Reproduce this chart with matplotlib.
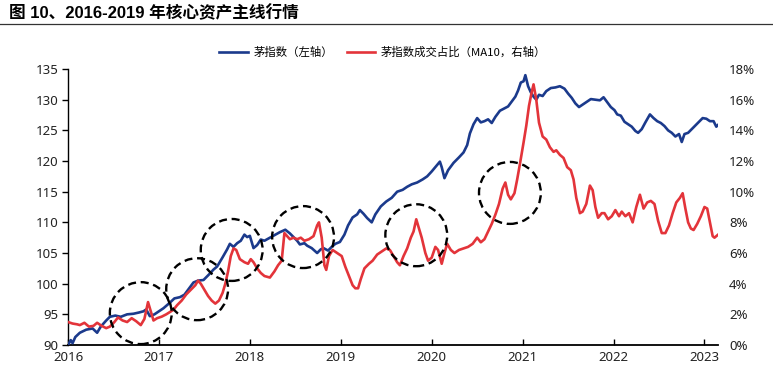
import matplotlib
matplotlib.use("Agg")
import matplotlib.pyplot as plt
from matplotlib.patches import Ellipse
from matplotlib.lines import Line2D
from matplotlib.ticker import FuncFormatter, MultipleLocator

plt.rcParams['font.family'] = ['Noto Sans', 'Noto Sans CJK SC', 'DejaVu Sans']

title = "图 10、2016-2019 年核心资产主线行情"
label_blue = "茅指数（左轴）"
label_red = "茅指数成交占比（MA10，右轴）"
year_ticks = [2016, 2017, 2018, 2019, 2020, 2021, 2022, 2023]

blue_x = [2016.00, 2016.03, 2016.05, 2016.08, 2016.13, 2016.20, 2016.27, 2016.32, 2016.36, 2016.42,
          2016.46, 2016.52, 2016.58, 2016.65, 2016.72, 2016.78, 2016.83, 2016.86, 2016.90, 2016.95,
          2016.98, 2017.05, 2017.12, 2017.17, 2017.23, 2017.28, 2017.33, 2017.38, 2017.43, 2017.49,
          2017.55, 2017.60, 2017.64, 2017.70, 2017.75, 2017.78, 2017.82, 2017.86, 2017.90, 2017.94,
          2017.97, 2018.00, 2018.04, 2018.08, 2018.12, 2018.16, 2018.22, 2018.28, 2018.33, 2018.39,
          2018.44, 2018.48, 2018.52, 2018.55, 2018.60, 2018.63, 2018.68, 2018.74, 2018.78, 2018.81,
          2018.86, 2018.90, 2018.94, 2018.99, 2019.04, 2019.08, 2019.13, 2019.18, 2019.21, 2019.25,
          2019.29, 2019.34, 2019.38, 2019.44, 2019.50, 2019.56, 2019.62, 2019.68, 2019.73, 2019.78,
          2019.84, 2019.90, 2019.95, 2020.00, 2020.05, 2020.09, 2020.11, 2020.14, 2020.18, 2020.24,
          2020.30, 2020.35, 2020.39, 2020.42, 2020.46, 2020.50, 2020.54, 2020.58, 2020.62, 2020.66,
          2020.70, 2020.75, 2020.80, 2020.84, 2020.88, 2020.92, 2020.95, 2020.98, 2021.01, 2021.03,
          2021.06, 2021.09, 2021.12, 2021.15, 2021.18, 2021.22, 2021.26, 2021.31, 2021.36, 2021.41,
          2021.46, 2021.50, 2021.54, 2021.58, 2021.62, 2021.66, 2021.70, 2021.75, 2021.80, 2021.85,
          2021.89, 2021.93, 2021.97, 2022.01, 2022.04, 2022.08, 2022.12, 2022.16, 2022.20, 2022.24,
          2022.27, 2022.31, 2022.35, 2022.40, 2022.44, 2022.48, 2022.52, 2022.56, 2022.60, 2022.64,
          2022.68, 2022.72, 2022.75, 2022.78, 2022.82, 2022.86, 2022.90, 2022.94, 2022.98, 2023.02,
          2023.06, 2023.10, 2023.13, 2023.15]
blue_y = [90.0, 90.8, 90.3, 91.3, 92.0, 92.5, 92.7, 92.0, 93.0, 94.0,
          94.6, 94.8, 94.6, 95.0, 95.1, 95.3, 95.5, 95.8, 94.7, 95.0,
          95.3, 96.0, 96.9, 97.6, 97.8, 98.2, 99.2, 100.2, 100.5, 100.6,
          101.5, 102.3, 102.8, 104.3, 105.6, 106.5, 106.0, 106.6, 107.0, 108.0,
          107.6, 107.8, 105.8, 106.3, 107.2, 107.0, 107.5, 108.0, 108.4, 108.8,
          108.2, 107.6, 107.0, 106.4, 106.6, 106.2, 105.8, 105.0, 105.6, 105.8,
          105.4, 106.0, 106.5, 106.8, 108.0, 109.5, 110.8, 111.3, 112.0, 111.4,
          110.7, 110.0, 111.3, 112.6, 113.4, 114.0, 115.0, 115.3, 115.8, 116.2,
          116.5, 117.0, 117.5, 118.3, 119.2, 119.9, 119.0, 117.2, 118.5, 119.7,
          120.6, 121.4, 122.6, 124.5, 126.0, 127.0, 126.3, 126.5, 126.8, 126.2,
          127.2, 128.2, 128.6, 128.9, 129.7, 130.5, 131.5, 132.8, 133.0, 134.0,
          132.2, 131.2, 130.5, 130.0, 130.8, 130.6, 131.4, 131.9, 132.0, 132.2,
          131.8, 131.0, 130.3, 129.4, 128.8, 129.2, 129.6, 130.1, 130.0, 129.9,
          130.4, 129.6, 128.8, 128.3, 127.6, 127.4, 126.4, 126.0, 125.6, 124.9,
          124.6, 125.2, 126.3, 127.6, 127.0, 126.5, 126.2, 125.7, 125.0, 124.6,
          124.0, 124.4, 123.1, 124.4, 124.6, 125.2, 125.8, 126.4, 127.0, 126.9,
          126.5, 126.5, 125.6, 125.9]

red_x = [2016.00, 2016.05, 2016.10, 2016.13, 2016.18, 2016.23, 2016.28, 2016.32, 2016.37, 2016.42,
         2016.46, 2016.51, 2016.55, 2016.60, 2016.65, 2016.70, 2016.75, 2016.80, 2016.84, 2016.88,
         2016.91, 2016.94, 2016.98, 2017.03, 2017.08, 2017.12, 2017.16, 2017.20, 2017.25, 2017.30,
         2017.35, 2017.40, 2017.43, 2017.46, 2017.50, 2017.54, 2017.58, 2017.62, 2017.66, 2017.70,
         2017.73, 2017.76, 2017.79, 2017.82, 2017.85, 2017.89, 2017.94, 2017.98, 2018.01, 2018.04,
         2018.08, 2018.12, 2018.16, 2018.22, 2018.27, 2018.31, 2018.35, 2018.38, 2018.41, 2018.44,
         2018.48, 2018.52, 2018.56, 2018.60, 2018.65, 2018.70, 2018.74, 2018.76, 2018.79, 2018.82,
         2018.84, 2018.87, 2018.91, 2018.96, 2019.01, 2019.05, 2019.09, 2019.13, 2019.16, 2019.19,
         2019.22, 2019.26, 2019.31, 2019.35, 2019.40, 2019.45, 2019.50, 2019.54, 2019.58, 2019.62,
         2019.65, 2019.69, 2019.73, 2019.77, 2019.80, 2019.83, 2019.86, 2019.89, 2019.93, 2019.96,
         2020.00, 2020.04, 2020.07, 2020.11, 2020.14, 2020.17, 2020.21, 2020.25, 2020.30, 2020.35,
         2020.40, 2020.45, 2020.50, 2020.54, 2020.58, 2020.62, 2020.66, 2020.70, 2020.74, 2020.78,
         2020.81, 2020.84, 2020.87, 2020.91, 2020.94, 2020.97, 2021.01, 2021.04, 2021.07, 2021.10,
         2021.12, 2021.15, 2021.18, 2021.22, 2021.26, 2021.30, 2021.34, 2021.37, 2021.41, 2021.45,
         2021.49, 2021.53, 2021.56, 2021.59, 2021.63, 2021.66, 2021.70, 2021.74, 2021.77, 2021.80,
         2021.83, 2021.87, 2021.90, 2021.94, 2021.98, 2022.02, 2022.06, 2022.09, 2022.13, 2022.17,
         2022.21, 2022.25, 2022.29, 2022.33, 2022.37, 2022.41, 2022.45, 2022.49, 2022.53, 2022.57,
         2022.61, 2022.65, 2022.69, 2022.73, 2022.76, 2022.79, 2022.82, 2022.85, 2022.88, 2022.92,
         2022.96, 2023.00, 2023.03, 2023.06, 2023.09, 2023.11, 2023.15]
red_y = [1.5, 1.4, 1.35, 1.3, 1.45, 1.2, 1.25, 1.45, 1.25, 1.1,
         1.2, 1.5, 1.8, 1.6, 1.5, 1.75, 1.55, 1.3, 1.7, 2.8,
         2.2, 1.6, 1.75, 1.85, 2.0, 2.15, 2.3, 2.6, 2.9, 3.3,
         3.6, 3.9, 4.2, 4.0, 3.6, 3.2, 2.9, 2.7, 2.9, 3.4,
         4.0, 4.8, 5.8, 6.3, 6.2, 5.6, 5.4, 5.3, 5.6, 5.4,
         5.0, 4.7, 4.5, 4.4, 4.8, 5.2, 5.5, 7.3, 7.1, 6.9,
         7.0, 6.9, 7.0, 6.8, 6.9, 7.1, 7.8, 8.0, 7.0, 5.2,
         4.9, 5.8, 6.2, 6.0, 5.8, 5.1, 4.5, 3.9, 3.7, 3.7,
         4.3, 5.0, 5.3, 5.5, 5.9, 6.1, 6.3, 6.2, 5.8, 5.4,
         5.2, 5.8, 6.3, 7.0, 7.4, 8.2, 7.6, 7.0, 6.0, 5.5,
         5.7, 6.4, 6.2, 5.3, 6.0, 6.6, 6.2, 6.0, 6.2, 6.3,
         6.4, 6.6, 7.0, 6.7, 6.9, 7.4, 7.9, 8.5, 9.2, 10.2,
         10.6, 9.8, 9.5, 9.9, 10.8, 11.8, 13.2, 14.3, 15.6, 16.5,
         17.0, 16.0, 14.5, 13.6, 13.4, 12.9, 12.6, 12.7, 12.4, 12.2,
         11.6, 11.4, 10.8, 9.6, 8.6, 8.7, 9.2, 10.4, 10.1, 9.0,
         8.3, 8.6, 8.6, 8.2, 8.4, 8.8, 8.4, 8.7, 8.4, 8.6,
         8.0, 9.0, 9.8, 8.9, 9.3, 9.4, 9.2, 8.1, 7.3, 7.3,
         7.8, 8.6, 9.3, 9.6, 9.9, 8.9, 8.0, 7.6, 7.5, 7.9,
         8.4, 9.0, 8.9, 8.0, 7.1, 7.0, 7.2]

# highlighted periods (centre year, centre value on left axis)
circle_x = [2016.80, 2017.42, 2017.80, 2018.585, 2019.83, 2020.86]
circle_y = [95.2, 99.1, 105.5, 107.6, 107.9, 114.8]

BLUE = '#1b3a8c'
RED = '#e3343a'

fig = plt.figure(figsize=(7.73, 3.76), dpi=100)
ax1 = fig.add_axes([0.088, 0.0824, 0.841, 0.734])
ax2 = ax1.twinx()

ax1.plot(blue_x, blue_y, color=BLUE, lw=1.9, zorder=3)
ax2.plot(red_x, red_y, color=RED, lw=1.9, zorder=3)

ax1.set_xlim(2016, 2023.15)
ax1.set_ylim(90, 135)
ax2.set_ylim(0, 18)
ax1.yaxis.set_major_locator(MultipleLocator(5))
ax2.yaxis.set_major_locator(MultipleLocator(2))
ax2.yaxis.set_major_formatter(FuncFormatter(lambda v, p: f"{int(round(v))}%"))
ax1.set_xticks(year_ticks)
ax1.set_xticklabels([str(y) for y in year_ticks])

for ax in (ax1, ax2):
    ax.spines['top'].set_visible(False)
    ax.spines['right'].set_visible(False)
ax2.spines['left'].set_visible(False)
ax2.spines['bottom'].set_visible(False)
ax1.spines['left'].set_linewidth(1.0)
ax1.spines['bottom'].set_linewidth(1.3)

TICK_C = '#222222'
ax1.tick_params(axis='x', direction='in', length=4, width=1, labelsize=9.5, pad=4, labelcolor=TICK_C)
ax1.tick_params(axis='y', direction='out', length=4, width=1, labelsize=9.5, pad=3, labelcolor=TICK_C)
ax2.tick_params(axis='y', length=0, labelsize=9.5, pad=8, labelcolor=TICK_C)

for cx, cy in zip(circle_x, circle_y):
    e = Ellipse((cx, cy), width=0.68, height=10.1, fill=False, edgecolor='black',
                lw=1.7, linestyle=(0, (3.4, 2.0)), transform=ax1.transData, zorder=5)
    ax2.add_patch(e)

handles = [Line2D([], [], color=BLUE, lw=1.9), Line2D([], [], color=RED, lw=1.9)]
fig.legend(handles, [label_blue, label_red], loc='center', bbox_to_anchor=(0.495, 0.862),
           ncol=2, frameon=False, fontsize=8.2, handlelength=2.5, handletextpad=0.5,
           columnspacing=1.2, prop={'family': ['Noto Sans CJK SC'], 'size': 8.2})

fig.text(0.012, 0.966, title, fontsize=12, fontweight='bold', va='center', ha='left',
         family=['Liberation Sans', 'Noto Sans CJK SC'])
fig.add_artist(Line2D([0.0, 1.0], [0.936, 0.936], transform=fig.transFigure, color='#333333', lw=0.9))

fig.savefig('out.png', dpi=100)
